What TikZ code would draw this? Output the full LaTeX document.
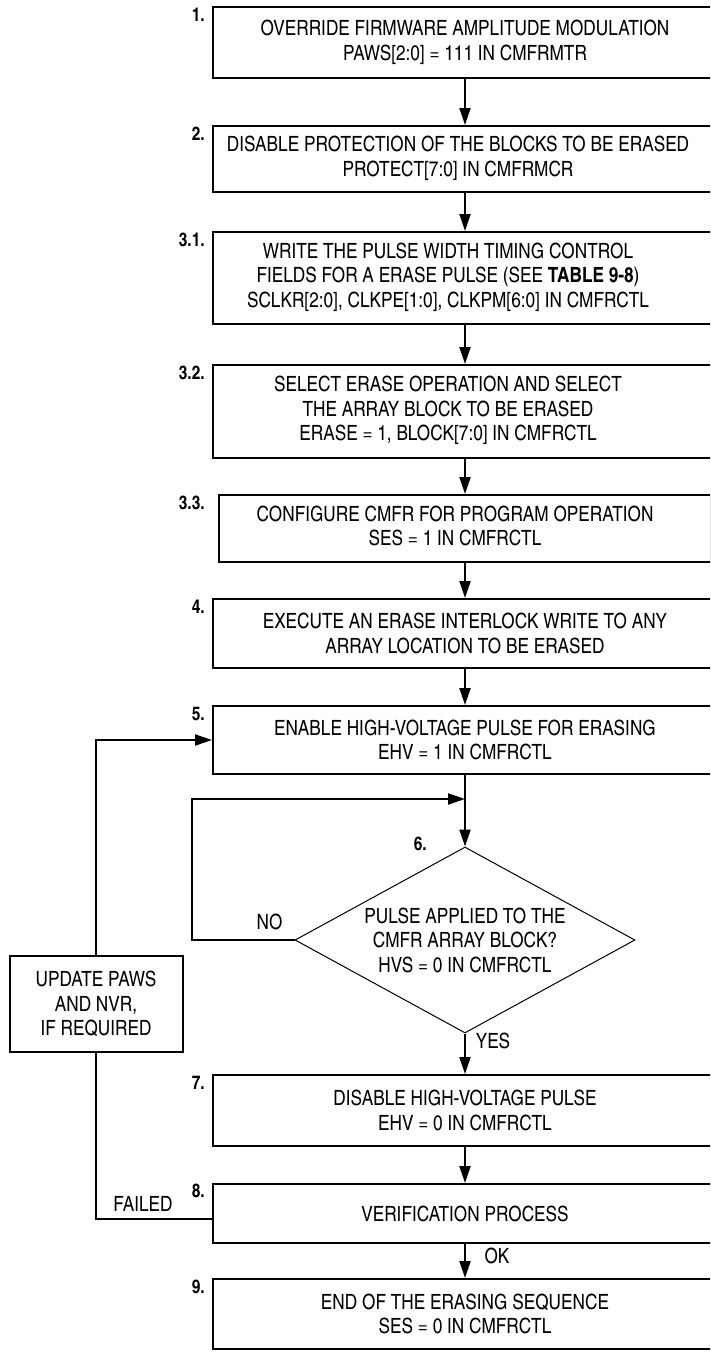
\documentclass[tikz,border=0pt]{standalone}
\usepackage{fontspec}
\setmainfont{texgyreheroscn}[Extension=.otf, UprightFont=*-regular, BoldFont=*-bold]
\usetikzlibrary{arrows.meta,shapes.geometric}

\newcommand{\boxfont}{\fontsize{21}{24.5}\selectfont}
\newcommand{\numfont}{\fontsize{19}{20}\selectfont\bfseries}
\newcommand{\leftlines}[2]{\begin{tabular}{@{}c@{}}#2\end{tabular}\hspace*{#1}}

\tikzset{
  stepbox/.style={draw, line width=2pt, minimum width=504pt, align=center, inner sep=0pt, font=\boxfont},
  decision/.style={draw, diamond, line width=1pt, shape aspect=1.83, minimum width=340pt, minimum height=186pt, inner sep=0pt, align=center, font=\boxfont},
  stepnum/.style={anchor=north east, inner sep=0pt, font=\numfont},
  answer/.style={inner sep=0pt, font=\boxfont},
  flow/.style={line width=2pt, -{Triangle[length=17pt,width=11pt]}},
  wire/.style={line width=2pt}
}

\begin{document}
\begin{tikzpicture}[x=1pt, y=-1pt]
\useasboundingbox (0,0) rectangle (710,1353);
\clip (0,0) rectangle (710,1353);

\node[stepbox, minimum height=71pt] (b1) at (465,42.5) {OVERRIDE FIRMWARE AMPLITUDE MODULATION\\PAWS[2:0] = 111 IN CMFRMTR};
\node[stepbox, minimum height=66pt] (b2) at (465,159) {\leftlines{14pt}{DISABLE PROTECTION OF THE BLOCKS TO BE ERASED\\PROTECT[7:0] IN CMFRMCR}};
\node[stepbox, minimum height=92pt] (b31) at (465,278) {\leftlines{34pt}{WRITE THE PULSE WIDTH TIMING CONTROL\\FIELDS FOR A ERASE PULSE (SEE \textbf{TABLE 9-8})\\SCLKR[2:0], CLKPE[1:0], CLKPM[6:0] IN CMFRCTL}};
\node[stepbox, minimum height=93pt] (b32) at (465,411.5) {\leftlines{34pt}{SELECT ERASE OPERATION AND SELECT\\THE ARRAY BLOCK TO BE ERASED\\ERASE = 1, BLOCK[7:0] IN CMFRCTL}};
\node[stepbox, minimum width=492pt, minimum height=67pt] (b33) at (465,528.5) {\leftlines{20pt}{CONFIGURE CMFR FOR PROGRAM OPERATION\\SES = 1 IN CMFRCTL}};
\node[stepbox, minimum height=69pt] (b4) at (465,633.5) {EXECUTE AN ERASE INTERLOCK WRITE TO ANY\\ARRAY LOCATION TO BE ERASED};
\node[stepbox, minimum height=68pt] (b5) at (465,740) {ENABLE HIGH-VOLTAGE PULSE FOR ERASING\\EHV = 1 IN CMFRCTL};
\node[decision] (dec) at (465,940) {PULSE APPLIED TO THE\\CMFR ARRAY BLOCK?\\HVS = 0 IN CMFRCTL};
\node[stepbox, minimum height=71pt] (b7) at (465,1110.5) {DISABLE HIGH-VOLTAGE PULSE\\EHV = 0 IN CMFRCTL};
\node[stepbox, minimum height=59pt] (b8) at (465,1213.5) {VERIFICATION PROCESS};
\node[stepbox, minimum height=70pt] (b9) at (465,1314) {END OF THE ERASING SEQUENCE\\SES = 0 IN CMFRCTL};
\node[stepbox, minimum width=173pt, minimum height=96pt] (upd) at (96,1004) {UPDATE PAWS\\AND NVR,\\IF REQUIRED};

\node[stepnum] (n1) at (205,8) {1.};
\node[stepnum] (n2) at (205,127) {2.};
\node[stepnum] (n31) at (205,233) {3.1.};
\node[stepnum] (n32) at (205,366) {3.2.};
\node[stepnum] (n33) at (205,496) {3.3.};
\node[stepnum] (n4) at (205,600) {4.};
\node[stepnum] (n5) at (205,707) {5.};
\node[stepnum] (n6) at (427,837) {6.};
\node[stepnum] (n7) at (205,1076) {7.};
\node[stepnum] (n8) at (205,1184) {8.};
\node[stepnum] (n9) at (205,1280) {9.};

\node[answer] (no) at (269.5,921.5) {NO};
\node[answer] (yes) at (493,1041) {YES};
\node[answer] (failed) at (143,1204) {FAILED};
\node[answer] (ok) at (497,1256) {OK};

\coordinate (join) at (465,799);
\coordinate (noleft) at (192,799);

\draw[flow] (b1) -- (b2);
\draw[flow] (b2) -- (b31);
\draw[flow] (b31) -- (b32);
\draw[flow] (b32) -- (b33);
\draw[flow] (b33) -- (b4);
\draw[flow] (b4) -- (b5);
\draw[wire] (b5) -- (join);
\draw[flow] (join) -- (dec);
\draw[flow] (dec.west) -| (noleft) -- (join);
\draw[flow] (dec) -- (b7);
\draw[flow] (b7) -- (b8);
\draw[flow] (b8) -- (b9);
\draw[wire] ([yshift=-5.5pt]b8.west) -| (upd.south);
\draw[flow] (upd.north) |- (b5.west);

\end{tikzpicture}
\end{document}
